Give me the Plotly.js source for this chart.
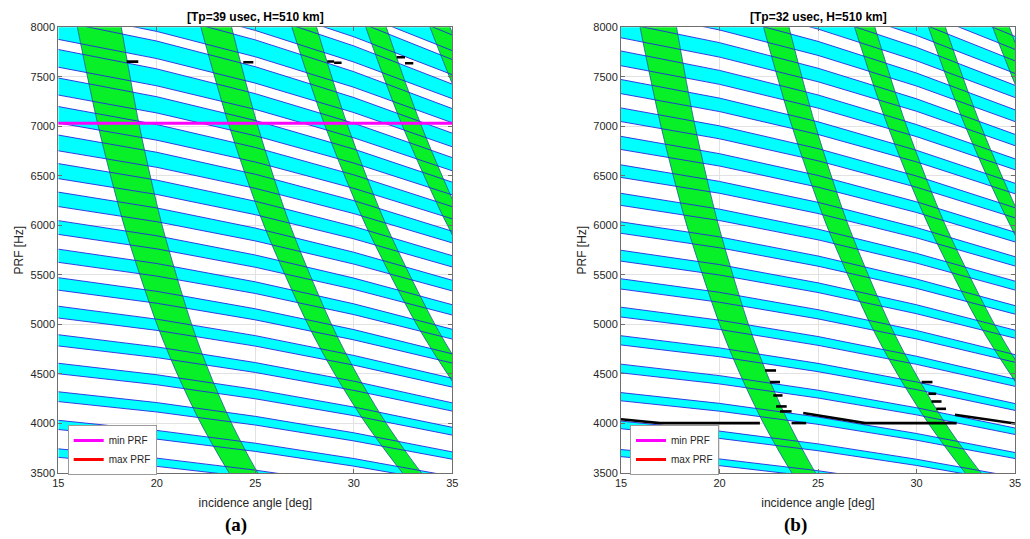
<!DOCTYPE html>
<html>
<head>
<meta charset="utf-8">
<script src="https://cdn.plot.ly/plotly-3.0.1.min.js"></script>
<style>html,body{margin:0;padding:0;background:#fff;}#chart{width:1030px;height:539px;}</style>
</head>
<body>
<div id="chart"></div>
<script>
// ---- data ----
const angles = [15, 20, 25, 30, 35];            // incidence angle samples [deg]
const bandNumbers = [13,14,15,16,17,18,19,20,21,22,23,24,25,26,27,28,29,30,31,32];

// panel (a): Tp=39 usec — transmit-eclipse (cyan) band edges [Hz] at the angle samples
const bandTopA = [
 [3744,3650,3529,3385,3218],[4032,3930,3801,3646,3466],[4320,4211,4072,3906,3713],[4608,4492,4344,4166,3961],
 [4896,4773,4615,4427,4208],[5184,5053,4887,4687,4456],[5472,5334,5158,4948,4703],[5760,5615,5430,5208,4951],
 [6048,5895,5701,5468,5199],[6336,6176,5973,5729,5446],[6624,6457,6244,5989,5694],[6912,6738,6516,6250,5941],
 [7200,7018,6787,6510,6189],[7488,7299,7059,6770,6436],[7776,7580,7330,7031,6684],[8064,7861,7602,7291,6931],
 [8352,8141,7873,7552,7179],[8641,8422,8145,7812,7426],[8929,8703,8416,8072,7674],[9217,8984,8688,8333,7922]];
const bandBotA = [
 [3658,3567,3453,3314,3154],[3939,3842,3718,3569,3397],[4221,4116,3984,3824,3639],[4502,4391,4249,4079,3882],
 [4783,4665,4515,4334,4125],[5065,4940,4781,4589,4367],[5346,5214,5046,4844,4610],[5627,5488,5312,5099,4852],
 [5909,5763,5577,5354,5095],[6190,6037,5843,5609,5338],[6472,6312,6108,5864,5580],[6753,6586,6374,6119,5823],
 [7034,6860,6640,6374,6066],[7316,7135,6905,6629,6308],[7597,7409,7171,6884,6551],[7878,7684,7436,7139,6793],
 [8160,7958,7702,7394,7036],[8441,8233,7968,7649,7279],[8723,8507,8233,7904,7521],[9004,8781,8499,8159,7764]];

// panel (b): Tp=32 usec
const bandTopB = [
 [3737,3642,3523,3379,3213],[4024,3923,3794,3639,3460],[4312,4203,4065,3899,3707],[4599,4483,4336,4159,3954],
 [4886,4763,4607,4419,4201],[5174,5043,4878,4679,4448],[5461,5324,5149,4939,4695],[5749,5604,5420,5199,4942],
 [6036,5884,5691,5458,5190],[6324,6164,5962,5718,5437],[6611,6444,6233,5978,5684],[6899,6724,6504,6238,5931],
 [7186,7005,6775,6498,6178],[7473,7285,7046,6758,6425],[7761,7565,7317,7018,6672],[8048,7845,7587,7278,6919],
 [8336,8125,7858,7538,7167],[8623,8406,8129,7798,7414],[8911,8686,8400,8058,7661],[9198,8966,8671,8318,7908]];
const bandBotB = [
 [3665,3574,3459,3320,3160],[3947,3849,3725,3576,3403],[4229,4124,3991,3831,3646],[4511,4399,4257,4087,3889],
 [4793,4674,4523,4342,4132],[5075,4949,4789,4597,4375],[5357,5224,5056,4853,4618],[5639,5499,5322,5108,4861],
 [5920,5774,5588,5364,5104],[6202,6049,5854,5619,5347],[6484,6324,6120,5874,5590],[6766,6599,6386,6130,5833],
 [7048,6874,6652,6385,6076],[7330,7149,6918,6641,6319],[7612,7424,7184,6896,6562],[7894,7699,7450,7152,6805],
 [8176,7973,7716,7407,7048],[8458,8248,7982,7662,7291],[8740,8523,8248,7918,7534],[9022,8798,8515,8173,7777]];

// nadir-return (green) bands: incidence angle of the band edges at these PRF levels
const nadirPRF = [8500, 8000, 7000, 6000, 5000, 4500, 4000, 3500, 3000];
const nadirLeftA = [
 [15.51,15.97,17.03,18.34,20.01,21.04,22.24,23.68,25.44],
 [21.61,22.24,23.68,25.44,27.67,29.03,30.61,32.48,34.76],
 [26.12,26.86,28.55,30.61,33.19,34.76,36.57],
 [29.79,30.61,32.48,34.76,37.58],
 [32.99,33.87,35.90,38.30]];
const nadirRightA = [
 [17.80,18.20,19.12,20.27,21.77,22.70,23.80,25.13,26.77],
 [23.23,23.80,25.13,26.77,28.87,30.15,31.65,33.44,35.62],
 [27.41,28.11,29.70,31.65,34.12,35.62,37.37],
 [30.87,31.65,33.44,35.62,38.35],
 [34.02,34.89,36.80,39.10]];
const nadirLeftB = nadirLeftA;
const nadirRightB = [
 [17.41,17.82,18.76,19.95,21.47,22.41,23.53,24.88,26.54],
 [22.95,23.53,24.88,26.54,28.65,29.96,31.47,33.28,35.47],
 [27.19,27.89,29.50,31.47,33.96,35.47,37.23],
 [30.68,31.47,33.28,35.47,38.21],
 [33.86,34.72,36.65,39.00]];

// black solution marks (segments separated by null)
const marksAx = [18.47,19.06,null, 24.39,24.90,null, 28.65,29.00,null, 29.00,29.38,null, 32.18,32.60,null, 32.60,33.02];
const marksAy = [7653,7653,null, 7647,7647,null, 7655,7655,null, 7642,7642,null, 7697,7697,null, 7637,7637];
const marksBx = [15,16.98,22.05,null, 23.66,24.40,null, 22.31,22.87,null, 22.56,23.07,null, 22.73,23.20,null,
                 22.87,23.41,null, 23.07,23.66,null, 24.25,27.40,32.04,null, 30.26,30.81,null, 30.60,31.00,null,
                 30.76,31.27,null, 31.00,31.50,null, 31.95,35];
const marksBy = [4043,4004,4004,null, 4004,4004,null, 4535,4535,null, 4418,4418,null, 4283,4283,null,
                 4172,4172,null, 4122,4122,null, 4105,4004,4004,null, 4418,4418,null, 4300,4300,null,
                 4222,4222,null, 4148,4148,null, 4088,4000];

const minPRF_A = 7030;
const xTicks = [15, 20, 25, 30, 35];
const yTicks = [3500,4000,4500,5000,5500,6000,6500,7000,7500,8000];

// ---- build traces ----
const CYAN = '#00ffff', GREEN = 'rgb(8,240,40)', EDGE = 'rgb(40,40,225)', GEDGE = 'rgb(20,90,150)';

function cyanFill(tops, bots, xa, ya) {
  const xs = [], ys = [];
  const ra = angles.slice().reverse();
  tops.forEach((t, i) => {
    xs.push(...angles, ...ra, null);
    ys.push(...t, ...bots[i].slice().reverse(), null);
  });
  return {x: xs, y: ys, xaxis: xa, yaxis: ya, mode: 'lines', fill: 'toself', fillcolor: CYAN,
          line: {width: 0, color: CYAN}, hoverinfo: 'skip', showlegend: false};
}
function cyanEdges(tops, bots, xa, ya) {
  const xs = [], ys = [];
  tops.forEach((t, i) => {
    xs.push(...angles, null, ...angles, null);
    ys.push(...t, null, ...bots[i], null);
  });
  return {x: xs, y: ys, xaxis: xa, yaxis: ya, mode: 'lines', line: {width: 0.9, color: EDGE},
          hoverinfo: 'skip', showlegend: false};
}
function greenBands(lefts, rights, xa, ya) {
  return lefts.map((L, m) => {
    const R = rights[m];
    const lv = nadirPRF.slice(0, L.length);
    return {x: L.concat(R.slice().reverse()), y: lv.concat(lv.slice().reverse()),
            xaxis: xa, yaxis: ya, mode: 'lines', fill: 'toself', fillcolor: GREEN,
            line: {width: 0.8, color: GEDGE, shape: 'spline', smoothing: 0.8},
            hoverinfo: 'skip', showlegend: false};
  });
}

const traces = [];
traces.push(cyanFill(bandTopA, bandBotA, 'x', 'y'));
traces.push(...greenBands(nadirLeftA, nadirRightA, 'x', 'y'));
traces.push(cyanEdges(bandTopA, bandBotA, 'x', 'y'));
traces.push({x: marksAx, y: marksAy, xaxis: 'x', yaxis: 'y', mode: 'lines', line: {width: 2.6, color: '#000'},
             hoverinfo: 'skip', showlegend: false});
traces.push({x: [15, 35], y: [minPRF_A, minPRF_A], xaxis: 'x', yaxis: 'y', mode: 'lines', name: 'min PRF',
             line: {width: 3, color: '#ff00ff'}, legend: 'legend'});
traces.push({x: [null], y: [null], xaxis: 'x', yaxis: 'y', mode: 'lines', name: 'max PRF',
             line: {width: 3, color: '#ff0000'}, legend: 'legend'});

traces.push(cyanFill(bandTopB, bandBotB, 'x2', 'y2'));
traces.push(...greenBands(nadirLeftB, nadirRightB, 'x2', 'y2'));
traces.push(cyanEdges(bandTopB, bandBotB, 'x2', 'y2'));
traces.push({x: marksBx, y: marksBy, xaxis: 'x2', yaxis: 'y2', mode: 'lines', line: {width: 2.6, color: '#000'},
             hoverinfo: 'skip', showlegend: false});
traces.push({x: [null], y: [null], xaxis: 'x2', yaxis: 'y2', mode: 'lines', name: 'min PRF',
             line: {width: 3, color: '#ff00ff'}, legend: 'legend2'});
traces.push({x: [null], y: [null], xaxis: 'x2', yaxis: 'y2', mode: 'lines', name: 'max PRF',
             line: {width: 3, color: '#ff0000'}, legend: 'legend2'});

const FONT = 'Liberation Sans, Arial, Helvetica, sans-serif';
function xAxis(domain, anchor) {
  return {domain: domain, anchor: anchor, range: [15, 35], tickvals: xTicks, ticks: 'inside', ticklen: 4,
          tickcolor: '#6e6e6e', showline: true, linecolor: '#6e6e6e', linewidth: 1, mirror: 'ticks',
          showgrid: true, gridcolor: '#e2e2e2', zeroline: false,
          tickfont: {family: FONT, size: 11, color: '#262626'},
          title: {text: 'incidence angle [deg]', font: {family: FONT, size: 12, color: '#262626'}, standoff: 10}};
}
function yAxis(domain, anchor) {
  return {domain: domain, anchor: anchor, range: [3500, 8000], tickvals: yTicks, ticks: 'inside', ticklen: 4,
          tickcolor: '#6e6e6e', showline: true, linecolor: '#6e6e6e', linewidth: 1, mirror: 'ticks',
          showgrid: true, gridcolor: '#e2e2e2', zeroline: false,
          tickfont: {family: FONT, size: 11, color: '#262626'},
          title: {text: 'PRF [Hz]', font: {family: FONT, size: 12, color: '#262626'}, standoff: 4}};
}
const yDom = [1 - 473 / 539, 1 - 27.3 / 539];
const legendStyle = {bgcolor: '#ffffff', bordercolor: '#9a9a9a', borderwidth: 1,
                     font: {family: FONT, size: 10, color: '#262626'}, itemwidth: 30, tracegroupgap: 0,
                     xanchor: 'left', yanchor: 'middle', y: 1 - 450 / 539};

const layout = {
  width: 1030, height: 539, margin: {l: 0, r: 0, t: 0, b: 0},
  paper_bgcolor: '#ffffff', plot_bgcolor: '#ffffff', showlegend: true,
  xaxis: xAxis([58.3 / 1030, 452.3 / 1030], 'y'),
  yaxis: yAxis(yDom, 'x'),
  xaxis2: xAxis([621 / 1030, 1015 / 1030], 'y2'),
  yaxis2: yAxis(yDom, 'x2'),
  legend: Object.assign({x: 67.7 / 1030}, legendStyle),
  legend2: Object.assign({x: 630 / 1030}, legendStyle),
  annotations: [
    {text: '<b>[Tp=39 usec, H=510 km]</b>', xref: 'paper', yref: 'paper', x: 255.3 / 1030, y: 1 - 17 / 539,
     xanchor: 'center', yanchor: 'middle', showarrow: false, font: {family: FONT, size: 12, color: '#000'}},
    {text: '<b>[Tp=32 usec, H=510 km]</b>', xref: 'paper', yref: 'paper', x: 818 / 1030, y: 1 - 17 / 539,
     xanchor: 'center', yanchor: 'middle', showarrow: false, font: {family: FONT, size: 12, color: '#000'}},
    {text: '<b>(a)</b>', xref: 'paper', yref: 'paper', x: 236 / 1030, y: 1 - 525 / 539,
     xanchor: 'center', yanchor: 'middle', showarrow: false, font: {family: 'Liberation Serif, Times New Roman, serif', size: 19, color: '#000'}},
    {text: '<b>(b)</b>', xref: 'paper', yref: 'paper', x: 795 / 1030, y: 1 - 525 / 539,
     xanchor: 'center', yanchor: 'middle', showarrow: false, font: {family: 'Liberation Serif, Times New Roman, serif', size: 19, color: '#000'}}
  ]
};

Plotly.newPlot('chart', traces, layout, {staticPlot: true, displayModeBar: false});
</script>
</body>
</html>
